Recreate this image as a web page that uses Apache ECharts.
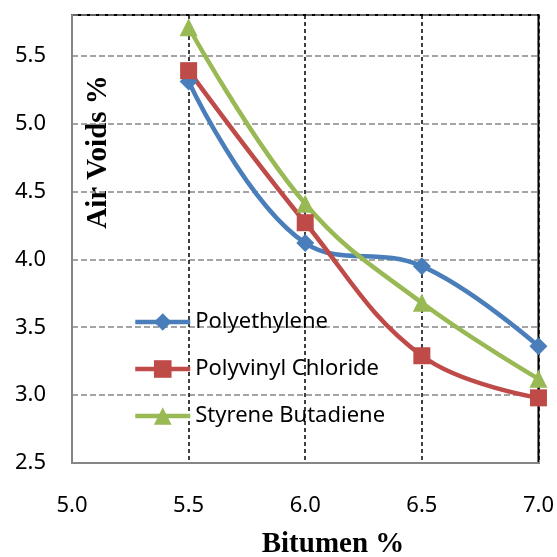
<!DOCTYPE html>
<html>
<head>
<meta charset="utf-8">
<script src="https://cdn.jsdelivr.net/npm/echarts@6/dist/echarts.min.js"></script>
<style>
  html, body { margin: 0; padding: 0; background: #fff; }
  #chart { width: 557px; height: 557px; }
</style>
</head>
<body>
<div id="chart"></div>
<script>
// bitumen content (%)
var bitumen = [5.5, 6.0, 6.5, 7.0];
// air voids (%) per modifier
var polyethylene = [5.31, 4.12, 3.95, 3.36];
var polyvinylChloride = [5.39, 4.27, 3.29, 2.98];
var styreneButadiene = [5.71, 4.41, 3.68, 3.12];

var seriesNames = ['Polyethylene', 'Polyvinyl Chloride', 'Styrene Butadiene'];

function pairs(ys) {
  return bitumen.map(function (x, i) { return [x, ys[i]]; });
}

var labelFont = '"Noto Sans", sans-serif';

var chart = echarts.init(document.getElementById('chart'));
chart.setOption({
  animation: false,
  grid: {
    left: 72, right: 18, top: 15, bottom: 94,
    show: true,
    borderColor: '#000',
    borderWidth: 2
  },
  legend: {
    orient: 'vertical',
    left: 133,
    top: 311,
    padding: 0,
    itemWidth: 55,
    itemHeight: 22,
    itemGap: 25,
    data: seriesNames,
    lineStyle: { width: 4.5 },
    textStyle: { fontFamily: labelFont, fontSize: 22, color: '#000', lineHeight: 22 }
  },
  xAxis: {
    type: 'value',
    min: 5, max: 7, interval: 0.5,
    axisLine: { lineStyle: { color: '#868686', width: 2 } },
    axisTick: { show: false },
    axisLabel: {
      margin: 32,
      fontFamily: labelFont, fontSize: 22, color: '#000',
      formatter: function (v) { return v.toFixed(1); }
    },
    splitLine: { show: true, lineStyle: { color: '#000', type: [4, 3], width: 1.5 } }
  },
  yAxis: {
    type: 'value',
    min: 2.5, max: 5.8, interval: 0.5,
    axisLine: { show: true, lineStyle: { color: '#868686', width: 2 } },
    axisTick: { show: false },
    axisLabel: {
      margin: 26,
      showMaxLabel: false,
      fontFamily: labelFont, fontSize: 22, color: '#000',
      formatter: function (v) { return v.toFixed(1); }
    },
    splitLine: { show: true, lineStyle: { color: '#868686', type: [6, 3], width: 1.5 } }
  },
  graphic: [
    {
      type: 'text', x: 99, y: 152, rotation: Math.PI / 2,
      style: {
        text: 'Air Voids %', fill: '#000',
        font: 'bold 29px "Liberation Serif", serif',
        textAlign: 'center', textVerticalAlign: 'middle'
      }
    },
    {
      type: 'text', x: 333, y: 545,
      style: {
        text: 'Bitumen %', fill: '#000',
        font: 'bold 29px "Liberation Serif", serif',
        textAlign: 'center', textVerticalAlign: 'middle'
      }
    }
  ],
  series: [
    {
      name: seriesNames[0], type: 'line', smooth: 0.4,
      data: pairs(polyethylene),
      symbol: 'diamond', symbolSize: 18,
      color: '#4A7EBB',
      lineStyle: { width: 4.5 }
    },
    {
      name: seriesNames[1], type: 'line', smooth: 0.4,
      data: pairs(polyvinylChloride),
      symbol: 'rect', symbolSize: 17,
      color: '#BE4B48',
      lineStyle: { width: 4.5 }
    },
    {
      name: seriesNames[2], type: 'line', smooth: 0.4,
      data: pairs(styreneButadiene),
      symbol: 'triangle', symbolSize: 18,
      color: '#98B954',
      lineStyle: { width: 4.5 }
    }
  ]
});
</script>
</body>
</html>
